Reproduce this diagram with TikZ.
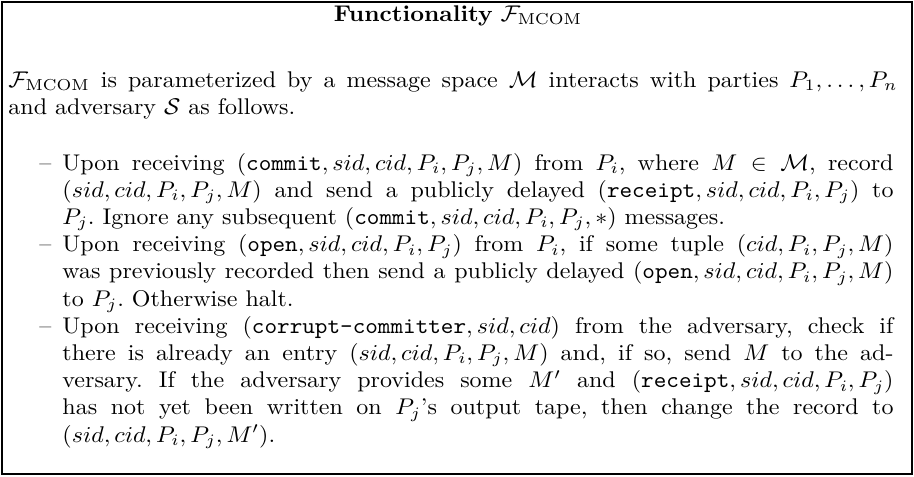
\documentclass[tikz,border=0pt]{standalone}
\usepackage{amsmath}
\usepackage{graphicx}
\newcommand{\sxf}{1.0573}
\newcommand{\wide}[1]{\scalebox{\sxf}[1]{#1}}
\newlength{\introw}\setlength{\introw}{370.4pt}
\newlength{\itemw}\setlength{\itemw}{346.25pt}
\newcommand{\jline}[2]{\makebox[#1][s]{#2}}
\begin{document}
\frenchspacing
\begin{tikzpicture}[x=0.4405pt,y=-0.4405pt,
  para/.style={anchor=base west, inner sep=0pt},
  dashmark/.style={anchor=base west, inner sep=0pt},
  frame/.style={line width=1.3pt}]
\useasboundingbox (0,0) rectangle (914,476);
\draw[frame] (2,2) rectangle (912,474);
\node[anchor=base, inner sep=0pt] (title) at (458,21) {\wide{\textbf{Functionality} $\mathcal{F}_{\mathrm{MCOM}}$}};
\node[para] (intro) at (8,87) {\wide{\parbox[t]{\introw}{%
\jline{\introw}{$\mathcal{F}_{\mathrm{MCOM}}$ is parameterized by a message space $\mathcal{M}$ interacts with parties $P_1,\ldots,P_n$}\\
and adversary $\mathcal{S}$ as follows.}}};
\node[dashmark] (d1) at (39,170) {\wide{\textendash}};
\node[para] (i1) at (62,170) {\wide{\parbox[t]{\itemw}{%
\jline{\itemw}{Upon receiving $(\texttt{commit},sid,cid,P_i,P_j,M)$ from $P_i$, where $M\in\mathcal{M}$, record}\\
\jline{\itemw}{$(sid,cid,P_i,P_j,M)$ and send a publicly delayed $(\texttt{receipt},sid,cid,P_i,P_j)$ to}\\
$P_j$. Ignore any subsequent $(\texttt{commit},sid,cid,P_i,P_j,*)$ messages.}}};
\node[dashmark] (d2) at (39,251.6) {\wide{\textendash}};
\node[para] (i2) at (62,251.6) {\wide{\parbox[t]{\itemw}{%
\jline{\itemw}{Upon receiving $(\texttt{open},sid,cid,P_i,P_j)$ from $P_i$, if some tuple $(cid,P_i,P_j,M)$}\\
\jline{\itemw}{was previously recorded then send a publicly delayed $(\texttt{open},sid,cid,P_i,P_j,M)$}\\
to $P_j$. Otherwise halt.}}};
\node[dashmark] (d3) at (39,333.2) {\wide{\textendash}};
\node[para] (i3) at (62,333.2) {\wide{\parbox[t]{\itemw}{%
\jline{\itemw}{Upon receiving $(\texttt{corrupt-committer},sid,cid)$ from the adversary, check if}\\
\jline{\itemw}{there is already an entry $(sid,cid,P_i,P_j,M)$ and, if so, send $M$ to the ad-}\\
\jline{\itemw}{versary. If the adversary provides some $M'$ and $(\texttt{receipt},sid,cid,P_i,P_j)$}\\
\jline{\itemw}{has not yet been written on $P_j$'s output tape, then change the record to}\\
$(sid,cid,P_i,P_j,M')$.}}};
\end{tikzpicture}
\end{document}
